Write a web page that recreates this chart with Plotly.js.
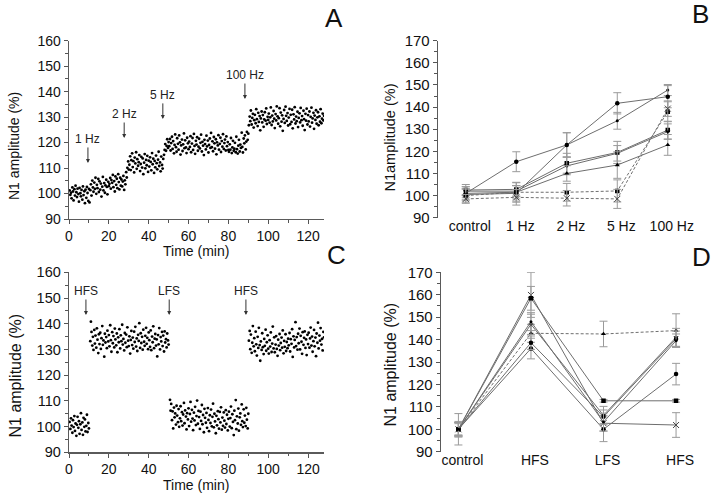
<!DOCTYPE html>
<html><head><meta charset="utf-8">
<script src="https://cdn.plot.ly/plotly-3.0.1.min.js"></script>
<style>html,body{margin:0;padding:0;background:#fff;} #chart{width:720px;height:496px;}</style>
</head><body><div id="chart"></div>
<script>
// ---------- shared sampling times (min) for panels A and C ----------
const timeMin = [
0.3,0.7,1,1.3,1.7,2,2.3,2.7,3,3.3,3.7,4,4.3,4.7,5,5.3,5.7,6,6.3,6.7,7,7.3,7.7,8,8.3,8.7,9,9.3,9.7,10,
10.3,10.7,11,11.3,11.7,12,12.3,12.7,13,13.3,13.7,14,14.3,14.7,15,15.3,15.7,16,16.3,16.7,17,17.3,17.7,18,18.3,18.7,19,19.3,19.7,20,
20.3,20.7,21,21.3,21.7,22,22.3,22.7,23,23.3,23.7,24,24.3,24.7,25,25.3,25.7,26,26.3,26.7,27,27.3,27.7,28,28.3,28.7,29,29.3,29.7,30,
30.3,30.7,31,31.3,31.7,32,32.3,32.7,33,33.3,33.7,34,34.3,34.7,35,35.3,35.7,36,36.3,36.7,37,37.3,37.7,38,38.3,38.7,39,39.3,39.7,40,
40.3,40.7,41,41.3,41.7,42,42.3,42.7,43,43.3,43.7,44,44.3,44.7,45,45.3,45.7,46,46.3,46.7,47,47.3,47.7,48,48.3,48.7,49,49.3,49.7,50,
50.3,50.7,51,51.3,51.7,52,52.3,52.7,53,53.3,53.7,54,54.3,54.7,55,55.3,55.7,56,56.3,56.7,57,57.3,57.7,58,58.3,58.7,59,59.3,59.7,60,
60.3,60.7,61,61.3,61.7,62,62.3,62.7,63,63.3,63.7,64,64.3,64.7,65,65.3,65.7,66,66.3,66.7,67,67.3,67.7,68,68.3,68.7,69,69.3,69.7,70,
70.3,70.7,71,71.3,71.7,72,72.3,72.7,73,73.3,73.7,74,74.3,74.7,75,75.3,75.7,76,76.3,76.7,77,77.3,77.7,78,78.3,78.7,79,79.3,79.7,80,
80.3,80.7,81,81.3,81.7,82,82.3,82.7,83,83.3,83.7,84,84.3,84.7,85,85.3,85.7,86,86.3,86.7,87,87.3,87.7,88,88.3,88.7,89,89.3,89.7,90,
90.3,90.7,91,91.3,91.7,92,92.3,92.7,93,93.3,93.7,94,94.3,94.7,95,95.3,95.7,96,96.3,96.7,97,97.3,97.7,98,98.3,98.7,99,99.3,99.7,100,
100.3,100.7,101,101.3,101.7,102,102.3,102.7,103,103.3,103.7,104,104.3,104.7,105,105.3,105.7,106,106.3,106.7,107,107.3,107.7,108,108.3,108.7,109,109.3,109.7,110,
110.3,110.7,111,111.3,111.7,112,112.3,112.7,113,113.3,113.7,114,114.3,114.7,115,115.3,115.7,116,116.3,116.7,117,117.3,117.7,118,118.3,118.7,119,119.3,119.7,120,
120.3,120.7,121,121.3,121.7,122,122.3,122.7,123,123.3,123.7,124,124.3,124.7,125,125.3,125.7,126,126.3,126.7,127,127.3,127.7,128
];

// ---------- Panel A: N1 amplitude (%) during 1, 2, 5, 100 Hz ----------
const aAmp = [
101.2,99.5,100.3,98.1,102.4,100.8,97.3,101.7,99.2,103.1,100.5,98.6,101.9,99.8,96.8,102.2,100.1,98.9,101.4,97.6,102.8,99.4,100.9,96.2,101.5,98.3,102.6,100.2,97.1,101.8,
96.5,101.3,103.6,99.2,105.1,102.4,100.7,104.3,101.8,106.2,99.9,103.4,102.1,105.7,100.6,104.8,101.5,103.9,98.8,102.7,106.5,101.2,104.1,100.3,103.2,105.4,102.6,99.7,104.6,102.9,
103.8,106.1,101.9,105.3,104.2,107.3,102.5,104.9,100.8,106.7,103.4,105.8,102.1,107.6,104.5,101.6,106.2,103.1,105.5,102.8,104.7,106.9,101.4,105.2,103.6,108.4,106.3,110.1,112.6,109.4,
111.3,114.6,109.2,113.1,115.8,110.4,112.7,108.3,114.1,111.8,116.2,109.7,113.5,110.9,112.3,115.1,108.8,111.6,114.4,110.2,113.8,107.6,112.1,115.5,109.9,113.2,111.1,114.8,108.5,112.9,
110.6,114.2,112.4,109.1,115.9,111.5,113.7,108.1,112.8,110.3,114.9,111.9,109.5,113.3,116.4,110.8,112.2,108.7,114.5,111.2,109.8,113.6,115.2,117.1,119.4,116.8,118.7,121.3,117.9,120.2,
118.6,121.4,116.9,119.8,122.3,117.5,120.6,115.8,119.1,123.2,118.2,116.4,121.7,119.5,117.2,122.8,120.1,115.3,118.9,121.2,116.7,119.3,123.6,117.8,120.9,118.1,115.9,121.9,119.7,117.4,
120.4,118.3,122.5,116.2,119.6,121.8,117.1,123.4,118.7,115.6,120.7,119.2,122.1,116.8,118.4,121.5,117.7,119.9,123.1,116.5,120.3,118.8,115.1,121.1,119.4,117.3,122.7,118.5,120.8,116.1,
119.1,121.6,117.9,123.8,118.2,120.5,116.6,122.2,119.7,117.6,121.3,115.4,120.1,118.9,122.9,117.2,119.5,121.9,116.3,120.6,118.4,123.3,117.5,119.8,121.2,116.9,122.4,118.6,120.2,117.1,
116.4,119.3,117.2,121.8,115.9,118.1,120.7,116.8,117.6,119.9,116.2,122.3,117.4,115.7,118.8,121.1,116.5,119.2,117.9,123.9,118.3,116.1,121.6,119.7,122.8,117.3,120.4,124.2,121.1,123.5,
126.8,130.2,128.4,132.6,127.1,129.7,131.3,125.9,128.8,130.9,127.6,133.1,129.2,126.5,131.7,128.1,130.4,124.8,129.5,132.2,127.9,130.8,126.2,129.1,131.9,128.6,133.4,127.3,130.1,128.9,
131.4,127.8,129.9,133.8,126.9,130.6,128.3,132.4,129.4,125.7,131.2,128.7,134.2,130.3,127.4,129.6,133.5,126.4,131.8,128.2,130.7,124.6,129.3,132.8,127.7,134.1,130.5,128.5,131.6,126.7,
129.8,133.2,127.2,130.9,128.1,132.9,125.6,131.1,129.1,133.9,127.5,130.2,128.4,132.1,126.1,129.7,131.5,127.9,133.6,128.8,130.4,126.6,132.5,129.2,124.9,131.3,128.6,133.3,127.1,130.8,
128.3,132.2,126.3,130.1,133.7,127.8,129.5,131.7,125.4,130.6,128.9,132.7,127.4,129.9,131.9,126.8,130.3,128.2,133.1,127.6,129.4,131.4,128.7,130.5
];
const aStimLabels = ['1 Hz', '2 Hz', '5 Hz', '100 Hz'];
const aStimTimes = [9.5, 27.7, 47.1, 88.3];
const aStimArrowY = [112.0, 121.8, 129.3, 137.1];

// ---------- Panel C: HFS / LFS / HFS ----------
const cAmp = [
101.8,99.1,103.2,100.4,97.6,102.5,99.8,104.1,98.3,101.2,96.4,100.7,103.8,99.5,102.1,97.2,100.9,105.2,98.7,101.6,96.8,103.4,99.9,102.8,98.1,100.3,104.6,97.9,101.4,99.3,
null,133.2,140.8,136.8,131.5,134.9,129.8,137.6,132.3,135.4,130.7,138.2,133.8,128.6,135.9,132.1,136.5,130.2,134.4,139.1,131.8,133.5,127.2,136.1,132.7,134.8,130.5,137.3,133.1,135.6,
131.2,139.4,133.6,129.1,136.7,132.4,135.2,130.8,138.1,133.9,131.6,136.2,128.9,134.7,132.8,137.9,130.4,135.5,133.2,139.6,131.9,134.1,129.6,136.4,132.6,135.8,130.9,138.6,133.4,131.3,
135.1,128.4,133.7,137.2,131.7,134.6,130.3,136.9,132.9,138.8,131.1,134.3,129.4,135.7,133.3,140.2,130.6,136.3,132.5,134.9,129.9,137.7,133.0,131.4,135.3,138.4,132.2,134.5,130.1,136.6,
133.6,131.0,137.4,129.7,135.0,132.8,139.0,130.5,134.2,136.0,131.5,133.9,127.3,135.6,132.0,138.3,130.0,134.8,133.1,136.8,131.3,135.4,129.2,137.0,132.7,134.0,130.8,136.2,133.5,131.9,
null,110.4,106.2,108.8,102.5,105.9,99.3,107.4,103.6,105.1,100.8,108.1,104.3,101.7,106.8,99.9,103.2,107.9,102.1,105.6,100.4,104.7,109.2,101.3,106.3,103.9,98.9,105.2,102.8,107.1,
100.2,104.9,109.6,101.9,106.5,103.1,98.6,105.4,102.4,107.7,100.6,104.1,110.1,101.1,106.1,103.7,99.1,105.8,102.2,108.4,100.9,104.5,97.8,106.9,103.4,101.5,105.3,99.5,107.2,102.6,
98.2,104.4,101.4,106.6,100.1,103.8,108.9,99.7,105.0,102.0,97.4,104.2,100.5,106.0,102.9,99.2,105.7,101.6,107.5,98.8,103.5,100.3,105.5,102.3,99.6,106.4,101.0,104.6,98.5,103.0,
105.8,100.0,103.3,107.8,99.4,104.8,101.8,96.7,106.2,102.5,110.3,99.0,104.0,101.2,107.0,98.4,103.6,105.1,100.7,108.6,102.1,99.8,106.7,101.5,104.3,100.2,107.3,102.7,99.3,105.0,
133.4,137.2,130.1,135.8,128.7,132.6,139.1,131.2,134.4,129.3,136.9,132.0,127.6,134.9,130.6,138.4,131.7,125.6,133.1,129.8,136.3,130.9,128.2,134.1,131.4,137.7,129.5,132.8,135.5,130.3,
128.4,133.6,131.1,136.6,129.0,132.3,138.9,130.4,134.7,128.9,131.9,135.2,130.2,127.5,133.8,131.5,136.0,129.7,132.5,134.6,130.7,137.4,128.5,133.3,131.0,135.9,129.4,132.9,130.5,134.2,
131.6,136.4,129.2,134.0,132.2,137.9,127.1,135.1,130.8,133.7,140.6,131.3,134.8,129.9,136.1,132.4,138.1,130.0,135.3,133.0,128.3,136.7,131.8,134.5,137.0,130.6,133.9,127.8,135.7,132.1,
136.5,130.7,134.3,138.5,131.5,135.0,129.1,133.2,137.6,131.2,134.6,127.4,136.2,132.6,140.4,130.4,135.4,133.4,138.3,131.9,134.1,129.6,136.8,134.7
];
const cStimLabels = ['HFS', 'LFS', 'HFS'];
const cStimTimes = [8.5, 50.3, 88.8];
const cStimArrowY = [143.4, 143.4, 143.4];

// ---------- Panel B: mean N1 amplitude per stimulation frequency ----------
const bCats = ['control', '1 Hz', '2 Hz', '5 Hz', '100 Hz'];
const bS1 = [101.0, 115.3, 122.9, 141.7, 144.7];  const bS1err = [3.0, 4.5, 5.5, 4.8, 5.0];
const bS2 = [100.5, 101.0, 122.9, 133.8, 147.7];  const bS2err = [2.5, 3.5, 5.5, 3.8, 2.5];
const bS3 = [102.5, 102.8, 114.6, 119.5, 129.6];  const bS3err = [2.5, 3.0, 4.5, 5.0, 4.0];
const bS4 = [102.0, 102.0, 113.4, 119.1, 128.9];  const bS4err = [2.0, 2.5, 4.0, 3.5, 3.5];
const bS5 = [101.0, 101.5, 110.0, 113.8, 122.9];  const bS5err = [2.0, 3.0, 3.5, 6.0, 4.7];
const bD1 = [100.0, 101.5, 101.5, 102.1, 137.9];  const bD1err = [3.0, 4.5, 4.0, 5.0, 4.5];
const bD2 = [98.5, 99.2, 98.8, 98.5, 139.3];      const bD2err = [2.0, 3.5, 3.5, 4.3, 3.5];

// ---------- Panel D: HFS / LFS / HFS ----------
const dCats = ['control', 'HFS', 'LFS', 'HFS'];
const dT1 = [100.0, 142.8, 142.5, 144.0];  const dT1err = [3.0, 4.0, 5.7, 7.5];
const dT2 = [100.0, 159.9, 102.7, 101.9];  const dT2err = [3.0, 10.0, 3.5, 5.5];
const dT3 = [100.0, 158.4, 112.7, 112.7];  const dT3err = [3.0, 5.3, 0.6, 0.6];
const dT4 = [100.0, 136.0, 100.0, 124.6];  const dT4err = [3.5, 4.6, 5.5, 4.8];
const dT5 = [100.0, 146.8, 106.2, 141.0];  const dT5err = [3.0, 4.5, 4.0, 4.0];
const dT6 = [100.0, 138.6, 105.6, 140.3];  const dT6err = [2.5, 3.0, 3.0, 3.5];
const dT7 = [100.0, 148.0, 103.2, 139.5];  const dT7err = [7.0, 4.0, 4.0, 3.0];

// ---------- build ----------
const FONT = 'Liberation Sans, Arial, Helvetica, sans-serif';
const W = 720, H = 496;
const px = v => v / W, py = v => 1 - v / H;
const LINE = '#6e6e6e', ERR = '#9a9a9a';

const traces = [];
traces.push({type:'scatter', mode:'markers', x: timeMin, y: aAmp, xaxis:'x', yaxis:'y',
  marker:{size:2.8, color:'#000'}, hoverinfo:'skip'});
traces.push({type:'scatter', mode:'markers', x: timeMin, y: cAmp, xaxis:'x3', yaxis:'y3',
  marker:{size:2.8, color:'#000'}, hoverinfo:'skip'});

function catIdx(cats){ return cats.map((c, i) => i); }

function meanTrace(cats, y, err, symbol, dashed, xa, ya, msize){
  const isX = symbol.indexOf('x') === 0;
  return {type:'scatter', mode:'lines+markers', x: catIdx(cats), y: y, xaxis: xa, yaxis: ya,
    line:{color: LINE, width: 1, dash: dashed ? '3px,2px' : 'solid'},
    marker: isX ? {symbol: symbol, size: 6, color:'#444', line:{color:'#444', width:1}}
                : {symbol: symbol, size: msize || 4.5, color:'#000'},
    error_y:{type:'data', array: err, visible:true, color: ERR, thickness: 1, width: 4},
    hoverinfo:'skip'};
}
const bSeries = [
  [bS2, bS2err, 'circle', false, 3], [bS1, bS1err, 'circle', false],
  [bS3, bS3err, 'square', false], [bS4, bS4err, 'triangle-down', false],
  [bS5, bS5err, 'triangle-up', false],
  [bD1, bD1err, 'square', true], [bD2, bD2err, 'x-thin-open', true]
];
bSeries.forEach(s => traces.push(meanTrace(bCats, s[0], s[1], s[2], s[3], 'x2', 'y2', s[4])));
const dSeries = [
  [dT1, dT1err, 'triangle-up', true], [dT2, dT2err, 'x-thin-open', false],
  [dT3, dT3err, 'square', false], [dT4, dT4err, 'circle', false],
  [dT5, dT5err, 'triangle-down', false], [dT6, dT6err, 'circle', false],
  [dT7, dT7err, 'circle', false, 3]
];
dSeries.forEach(s => traces.push(meanTrace(dCats, s[0], s[1], s[2], s[3], 'x4', 'y4', s[4])));

function linAxis(domain, range, dtick, minorDtick, anchor, fs){
  return {domain, range, anchor, dtick, tick0:0, ticks:'outside', ticklen:4, tickwidth:1, tickcolor:'#555',
    showline:true, linecolor:'#5a5a5a', linewidth:1.3, showgrid:false, zeroline:false, fixedrange:true,
    tickfont:{family:FONT, size:fs, color:'#111'},
    minor:{dtick:minorDtick, ticks:'outside', ticklen:2.5, tickcolor:'#555', showgrid:false}};
}
function catAxis(domain, range, cats, anchor){
  return {domain, range, anchor, tickvals: catIdx(cats), ticktext: cats, ticks:'', showline:false,
    showgrid:false, zeroline:false, fixedrange:true, ticklabelshift:4, ticklabelstandoff:-2,
    tickfont:{family:FONT, size:14, color:'#111'}};
}

const layout = {
  width: W, height: H, margin:{l:0, r:0, t:0, b:0}, showlegend:false,
  paper_bgcolor:'#fff', plot_bgcolor:'#fff', font:{family:FONT, size:14, color:'#111'},
  xaxis:  linAxis([px(69), px(324)], [0, 128], 20, 10, 'y', 14),
  yaxis:  linAxis([py(219), py(40.7)], [90, 160], 10, 5, 'x', 14),
  xaxis3: linAxis([px(69), px(324)], [0, 128], 20, 10, 'y3', 14),
  yaxis3: linAxis([py(452.3), py(272.3)], [90, 160], 10, 5, 'x3', 14.5),
  xaxis2: catAxis([px(438), px(690)], [-0.55, 4.44], bCats, 'y2'),
  yaxis2: linAxis([py(217.7), py(40.7)], [90, 170], 10, 5, 'x2', 15),
  xaxis4: catAxis([px(441), px(700)], [-0.24, 3.33], dCats, 'y4'),
  yaxis4: linAxis([py(451.7), py(272.3)], [90, 170], 10, 5, 'x4', 15),
  annotations: []
};

const ann = layout.annotations;
function paperText(text, x, y, size, angle){
  ann.push({text, xref:'paper', yref:'paper', x: px(x), y: py(y), xanchor:'center', yanchor:'middle',
    showarrow:false, textangle: angle || 0, font:{family:FONT, size, color:'#111'}});
}
paperText('N1 amplitude (%)', 14, 146, 14, -90);
paperText('N1amplitude (%)', 389, 137.5, 14.5, -90);
paperText('N1 amplitude (%)', 15, 375.5, 16, -90);
paperText('N1 amplitude (%)', 390, 364.5, 16, -90);
paperText('Time (min)', 196, 251, 14);
paperText('Time (min)', 196, 485, 14);
paperText('A', 334, 18, 26); paperText('B', 700, 14, 26);
paperText('C', 336, 255, 26); paperText('D', 701, 257, 26);

function stimArrows(labels, times, ys, xref, yref){
  labels.forEach((t, i) => ann.push({text: t, x: times[i], y: ys[i], xref, yref, showarrow:true,
    ax: 0, ay: -24, arrowhead: 2, arrowsize: 0.8, arrowwidth: 1, arrowcolor:'#333',
    font:{family:FONT, size:12, color:'#222'}}));
}
stimArrows(aStimLabels, aStimTimes, aStimArrowY, 'x', 'y');
stimArrows(cStimLabels, cStimTimes, cStimArrowY, 'x3', 'y3');

Plotly.newPlot('chart', traces, layout, {staticPlot:true, displayModeBar:false});
</script></body></html>
